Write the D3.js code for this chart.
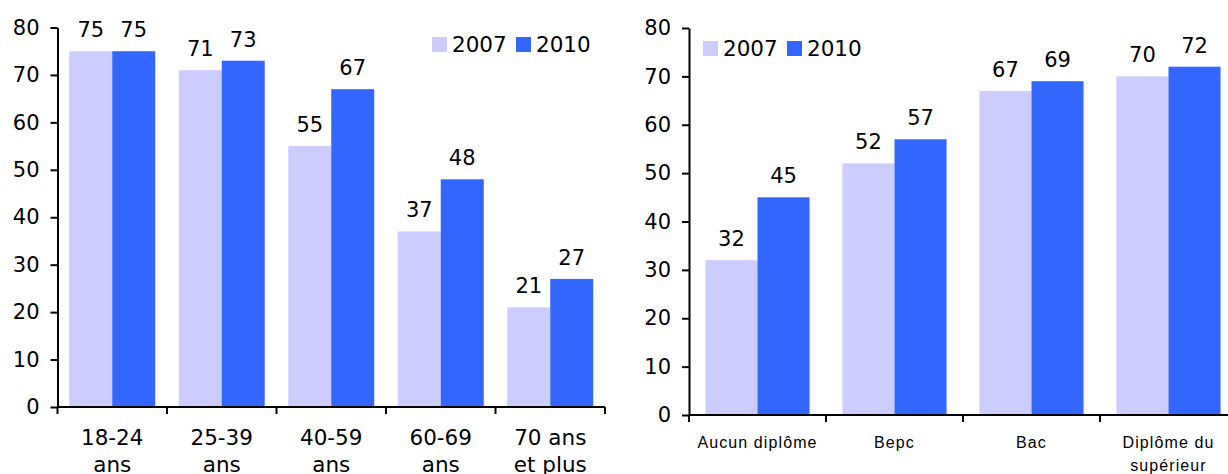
<!DOCTYPE html>
<html>
<head>
<meta charset="utf-8">
<script src="https://cdn.jsdelivr.net/npm/d3@7"></script>
<style>
  html, body { margin: 0; padding: 0; background: #fff; }
  svg { display: block; }
  text { font-family: "DejaVu Sans", Verdana, sans-serif; fill: #000; }
</style>
</head>
<body>
<svg id="chart" width="1228" height="474"></svg>
<script>
// Age groups
const ageCategories = [["18-24", "ans"], ["25-39", "ans"], ["40-59", "ans"], ["60-69", "ans"], ["70 ans", "et plus"]];
const age2007 = [75, 71, 55, 37, 21];
const age2010 = [75, 73, 67, 48, 27];

// Diploma levels
const diplomaCategories = [["Aucun diplôme"], ["Bepc"], ["Bac"], ["Diplôme du", "supérieur"]];
const diploma2007 = [32, 52, 67, 70];
const diploma2010 = [45, 57, 69, 72];

const seriesNames = ["2007", "2010"];
const yTicks = [0, 10, 20, 30, 40, 50, 60, 70, 80];

const colors = { "2007": "#CCCCFF", "2010": "#3366FF" };

const svg = d3.select("#chart");

function drawPanel(opt) {
  const g = svg.append("g");
  const n = opt.categories.length;
  const keys = opt.categories.map((c, i) => "c" + i);

  const y = d3.scaleLinear().domain([0, 80]).range([opt.y0, opt.y1]);
  const x0 = d3.scaleBand().domain(keys).range([opt.x0, opt.x0 + opt.step * n])
    .paddingInner(opt.pad).paddingOuter(opt.pad / 2);
  const x1 = d3.scaleBand().domain(seriesNames).range([0, x0.bandwidth()]);

  const rows = opt.categories.map((c, i) => ({ key: keys[i], label: c, "2007": opt.s2007[i], "2010": opt.s2010[i] }));

  // Bars
  const grp = g.selectAll("g.grp").data(rows).enter().append("g")
    .attr("transform", d => `translate(${x0(d.key)},0)`);
  grp.selectAll("rect").data(d => seriesNames.map(s => ({ s, v: d[s] }))).enter().append("rect")
    .attr("x", d => x1(d.s))
    .attr("width", x1.bandwidth())
    .attr("y", d => y(d.v))
    .attr("height", d => y(0) - y(d.v))
    .attr("fill", d => colors[d.s]);

  // Value labels
  grp.selectAll("text.val").data(d => seriesNames.map(s => ({ s, v: d[s] }))).enter().append("text")
    .attr("class", "val")
    .attr("x", d => x1(d.s) + x1.bandwidth() / 2)
    .attr("y", d => y(d.v) - 14)
    .attr("text-anchor", "middle")
    .style("font-size", "21px")
    .text(d => d.v);

  // Y axis
  const yAxis = d3.axisLeft(y).tickValues(yTicks).tickSize(7).tickPadding(11).tickSizeOuter(0);
  const ya = g.append("g").attr("transform", `translate(${opt.x0},0)`).call(yAxis);
  ya.select(".domain").attr("stroke", "#000").attr("stroke-width", 2);
  ya.selectAll(".tick line").attr("stroke", "#000").attr("stroke-width", 2);
  ya.selectAll(".tick text").style("font-size", "21px").style("font-family", '"DejaVu Sans", Verdana, sans-serif').attr("fill", "#000");

  // X axis line with tick marks at category boundaries
  const bounds = d3.range(n + 1).map(i => opt.x0 + i * x0.step());
  g.append("line")
    .attr("x1", opt.x0).attr("x2", Math.min(opt.x0 + opt.step * n, 1228))
    .attr("y1", y(0)).attr("y2", y(0))
    .attr("stroke", "#000").attr("stroke-width", 2);
  g.selectAll("line.xt").data(bounds.filter(b => b <= 1228)).enter().append("line")
    .attr("x1", d => d).attr("x2", d => d)
    .attr("y1", y(0)).attr("y2", y(0) + 7)
    .attr("stroke", "#000").attr("stroke-width", 2);

  // Category labels
  const cl = g.selectAll("text.cat").data(rows).enter().append("text")
    .attr("class", "cat")
    .attr("x", d => x0(d.key) + x0.bandwidth() / 2)
    .attr("y", opt.labelY)
    .attr("text-anchor", "middle")
    .style("font-size", opt.labelFont)
    .style("font-family", opt.labelFamily)
    .style("letter-spacing", opt.labelSpacing);
  cl.selectAll("tspan").data(d => d.label.map((t, i) => ({ t, i }))).enter().append("tspan")
    .attr("x", function () { return d3.select(this.parentNode).attr("x"); })
    .attr("dy", d => d.i === 0 ? 0 : opt.labelLine)
    .text(d => d.t);

  // Legend
  const lg = g.append("g").attr("transform", `translate(${opt.legendX},${opt.legendY})`);
  const items = [{ s: "2007", dx: 0 }, { s: "2010", dx: 84 }];
  items.forEach(it => {
    lg.append("rect").attr("x", it.dx).attr("y", 0).attr("width", 15).attr("height", 15).attr("fill", colors[it.s]);
    lg.append("text").attr("x", it.dx + 20).attr("y", 14.5).style("font-size", "21.5px").text(it.s);
  });
}

drawPanel({
  categories: ageCategories, s2007: age2007, s2010: age2010,
  x0: 57.5, step: 109.5, pad: 0.215, y0: 407, y1: 27.5,
  labelY: 445, labelLine: 27, labelFont: "21.5px",
  labelFamily: '"DejaVu Sans", Verdana, sans-serif', labelSpacing: "0px",
  legendX: 432, legendY: 37
});

drawPanel({
  categories: diplomaCategories, s2007: diploma2007, s2010: diploma2010,
  x0: 689, step: 137, pad: 0.24, y0: 415, y1: 28,
  labelY: 448, labelLine: 23, labelFont: "16px",
  labelFamily: '"Liberation Sans", Arial, sans-serif', labelSpacing: "1.1px",
  legendX: 703, legendY: 41
});
</script>
</body>
</html>
